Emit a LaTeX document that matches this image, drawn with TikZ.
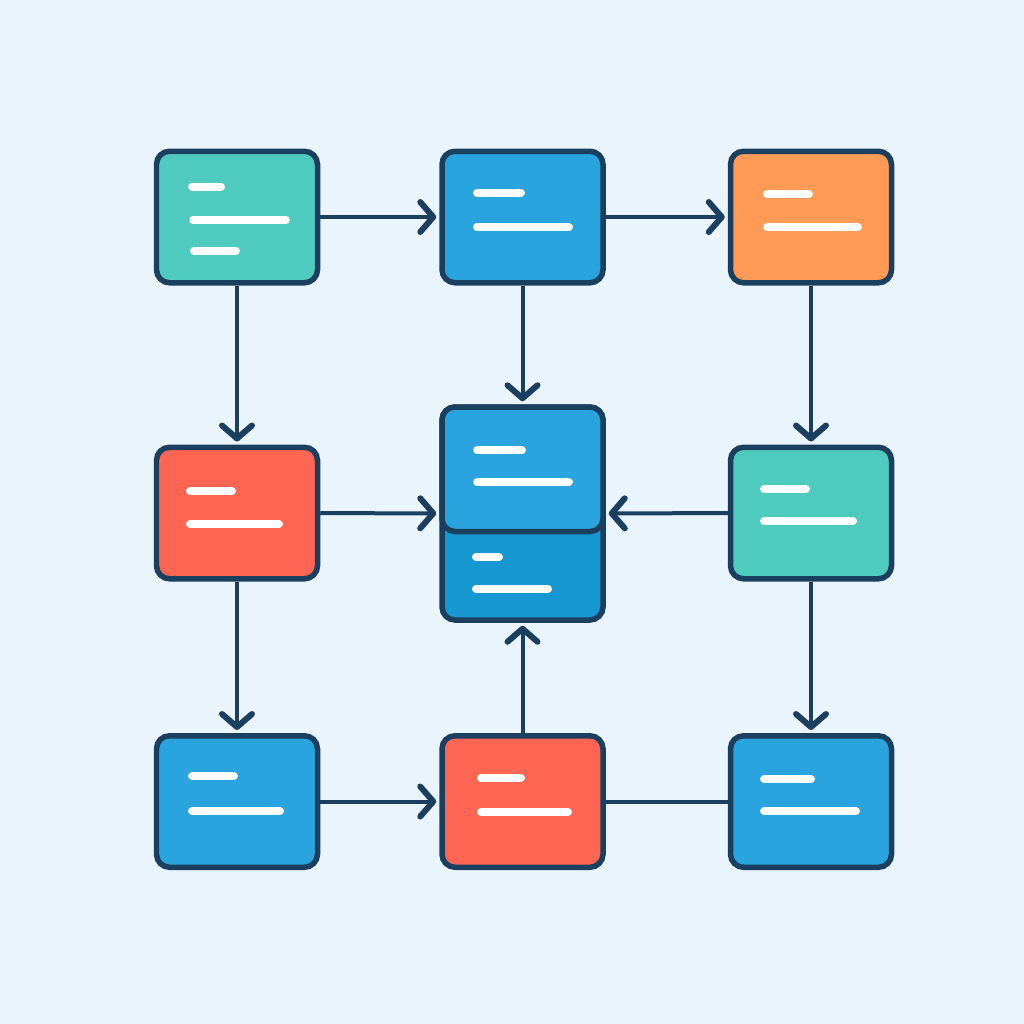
\documentclass[tikz,border=0pt]{standalone}
\usetikzlibrary{arrows.meta}
\definecolor{bgc}{HTML}{EAF4FD}
\definecolor{ink}{HTML}{1B3F5E}
\definecolor{tealc}{HTML}{4ECBBE}
\definecolor{bluec}{HTML}{29A4DF}
\definecolor{bluedk}{HTML}{1798D2}
\definecolor{orangec}{HTML}{FF9A57}
\definecolor{redc}{HTML}{FF6553}
\begin{document}
\begin{tikzpicture}[box/.style={draw=ink,line width=0.055cm,rounded corners=0.13cm,minimum width=1.61cm,minimum height=1.315cm,inner sep=0pt},
bar/.style={white,line width=0.08cm,line cap=round},
link/.style={ink,line width=0.04cm,-{Straight Barb[length=0.13cm,width=0.3cm,line width=0.06cm,round]},shorten >=0.03cm}]
\fill[bgc] (0,0) rectangle (10.24,-10.24);
\node[box,fill=tealc] (A) at (2.37,-2.17) {};
\node[box,fill=bluec] (B) at (5.225,-2.17) {};
\node[box,fill=orangec] (C) at (8.11,-2.17) {};
\node[box,fill=redc] (D) at (2.37,-5.13) {};
\node[box,fill=bluedk,minimum height=2.13cm] (E) at (5.225,-5.135) {};
\node[box,fill=bluec,minimum height=1.245cm,anchor=north] (Etop) at (E.north) {};
\node[box,fill=tealc] (F) at (8.11,-5.13) {};
\node[box,fill=bluec] (G) at (2.37,-8.015) {};
\node[box,fill=redc] (H) at (5.225,-8.015) {};
\node[box,fill=bluec] (I) at (8.11,-8.015) {};
\foreach \n/\dx/\dy/\len in {A/-0.45/0.305/0.29,A/-0.44/-0.025/0.93,A/-0.43/-0.335/0.42,
  B/-0.455/0.24/0.44,B/-0.455/-0.10/0.92,C/-0.44/0.23/0.42,C/-0.44/-0.10/0.91,
  D/-0.47/0.22/0.42,D/-0.47/-0.11/0.89,Etop/-0.455/0.19/0.45,Etop/-0.455/-0.13/0.92,
  E/-0.465/-0.435/0.23,E/-0.465/-0.755/0.72,F/-0.47/0.24/0.42,F/-0.47/-0.08/0.89,
  G/-0.45/0.255/0.42,G/-0.45/-0.095/0.88,H/-0.415/0.235/0.40,H/-0.415/-0.105/0.87,
  I/-0.47/0.225/0.47,I/-0.47/-0.095/0.92}
  \draw[bar] ([shift={(\dx,\dy)}]\n.center) -- ++(\len,0);
\draw[link] (A) -- (B);
\draw[link] (B) -- (C);
\draw[link] (A) -- (D);
\draw[link] (B) -- (E);
\draw[link] (C) -- (F);
\draw[link] (D) -- (E);
\draw[link] (F) -- (E);
\draw[link] (D) -- (G);
\draw[link] (H) -- (E);
\draw[link] (F) -- (I);
\draw[link] (G) -- (H);
\draw[ink,line width=0.04cm] (H) -- (I);
\end{tikzpicture}
\end{document}
